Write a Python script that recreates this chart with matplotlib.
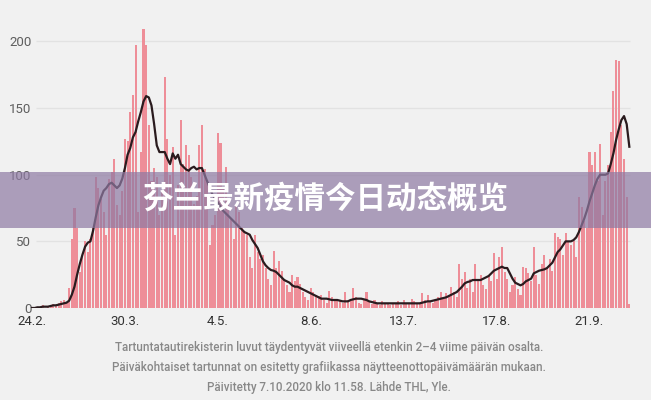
import numpy as np
import matplotlib
matplotlib.use("Agg")
import matplotlib.pyplot as plt
from matplotlib.patches import Rectangle

# daily cases, 24.2.2020 -> 6.10.2020 (one value per day)
cases = [1, 0, 1, 0, 2, 0, 1, 2, 3, 2, 4,
         5, 6, 4, 15, 52, 75, 60, 27, 38, 50,
         42, 52, 60, 98, 90, 82, 72, 55, 97, 102,
         112, 77, 70, 88, 127, 125, 147, 160, 197, 72,
         117, 209, 197, 137, 95, 105, 98, 70, 88, 173,
         127, 100, 121, 55, 92, 141, 108, 122, 115, 98,
         78, 84, 122, 137, 104, 95, 47, 62, 70, 131,
         124, 90, 106, 80, 67, 52, 78, 72, 60, 58,
         55, 38, 30, 55, 42, 37, 40, 30, 22, 17,
         43, 30, 35, 28, 22, 17, 12, 25, 20, 23,
         18, 12, 8, 6, 15, 12, 10, 9, 10, 6,
         4, 13, 8, 7, 6, 5, 4, 12, 6, 5,
         15, 8, 4, 3, 7, 12, 5, 3, 6, 3,
         2, 5, 4, 3, 2, 4, 3, 5, 2, 6,
         4, 3, 7, 5, 3, 4, 11, 6, 10, 5,
         4, 6, 8, 12, 7, 11, 9, 16, 12, 8,
         33, 22, 27, 15, 22, 12, 33, 21, 25, 17,
         14, 25, 20, 41, 22, 38, 46, 27, 22, 12,
         17, 23, 14, 10, 31, 30, 26, 20, 46, 25,
         18, 33, 40, 30, 37, 28, 56, 53, 52, 40,
         56, 50, 47, 50, 38, 83, 76, 65, 60, 117,
         107, 117, 95, 123, 70, 95, 107, 132, 163, 186,
         185, 137, 112, 83, 3]

# 7 day average line
avg = [0, 0, 0.5, 0.5, 1, 1, 1, 1.5, 2, 2, 2.5,
       3, 3.5, 4, 5.5, 10, 16, 25, 33, 40, 46,
       49, 50, 58, 68, 77, 83, 88, 90, 93, 94,
       92, 90, 92, 97, 105, 115, 120, 128, 132, 140,
       147, 155, 159, 158, 152, 138, 122, 117, 117, 117,
       112, 108, 116, 112, 115, 108, 106, 104, 103, 105,
       106, 104, 105, 105, 100, 95, 90, 85, 82, 79,
       76, 73, 71, 69, 67, 65, 63, 61, 59, 57,
       56, 55, 51, 48, 45, 40, 35, 32, 30, 28.5,
       28, 27, 25, 23, 21, 20, 19, 17, 16, 16,
       15, 14, 13, 12, 11, 10, 9, 8, 7, 7,
       7, 6.5, 6, 6, 6, 5.5, 5, 5, 5, 6,
       6.5, 7, 7, 7, 6.5, 6, 5, 4.5, 4, 3.5,
       3.5, 3.5, 3.5, 3.5, 3.5, 3.5, 3.5, 3.5, 3.5, 3.5,
       3.5, 3.5, 3.5, 3.5, 3.5, 3.5, 4, 4.5, 5, 5,
       5.5, 6, 6.5, 7, 7.5, 8, 9, 10, 11, 12,
       14, 16, 18.5, 19.5, 20, 21, 21, 21, 21, 22,
       23, 24, 26, 28, 29, 30, 31, 30, 30, 26,
       22, 19, 18, 17, 18, 20, 21, 22, 26, 27,
       28, 28.5, 29, 30, 32, 34, 38, 42, 44, 47,
       50, 50, 50, 51, 53, 57, 62, 67, 73, 80,
       86, 92, 97, 100, 100, 100, 101, 108, 116, 126,
       134, 141, 144, 138, 121]

tick_days = [0, 35, 70, 105, 140, 175, 210]
tick_labels = ["24.2.", "30.3.", "4.5.", "8.6.", "13.7.", "17.8.", "21.9."]
y_ticks = [0, 50, 100, 150, 200]

notes = [
    "Tartuntatautirekisterin luvut täydentyvät viiveellä etenkin 2–4 viime päivän osalta.",
    "Päiväkohtaiset tartunnat on esitetty grafiikassa näytteenottopäivämäärän mukaan.",
    "Päivitetty 7.10.2020 klo 11.58. Lähde THL, Yle.",
]
banner = "芬兰最新疫情今日动态概览"

bg = "#f1f1f1"
days = np.arange(len(cases))

fig = plt.figure(figsize=(6.51, 4.0), dpi=100, facecolor=bg)
ax = fig.add_axes([0.0461, 0.23, 0.9247, 0.733])
ax.set_facecolor(bg)

ax.hlines(y_ticks[1:], 1.5, 225.3, color="#e2e2e2", lw=1, zorder=0)
ax.bar(days, cases, width=0.78, color="#ee8e98", zorder=2)
ax.plot(days, avg, color="#2a1b1e", lw=1.6, zorder=3)

ax.set_xlim(-0.75, 226)
ax.set_ylim(0, 220)
ax.set_xticks(tick_days)
ax.set_xticklabels(tick_labels, family="Roboto", fontsize=9.5, color="#333333")
ax.set_yticks(y_ticks)
ax.set_yticklabels([str(v) for v in y_ticks], family="Roboto", fontsize=9.5, color="#5e5e5e")
ax.tick_params(axis="x", length=0, pad=5)
ax.tick_params(axis="y", length=0, pad=-1)
for s in ax.spines.values():
    s.set_visible(False)

for txt, y in zip(notes, [0.1325, 0.0825, 0.0325]):
    fig.text(0.505, y, txt, ha="center", va="center", family="Roboto",
             fontsize=8.4, color="#888888", fontweight="medium")

# purple banner with title across the middle
fig.add_artist(Rectangle((0, 0.43), 1, 0.14, transform=fig.transFigure,
                         facecolor="#8e7aa3", alpha=0.7, edgecolor="none", zorder=5))
fig.text(0.5, 0.503, banner, ha="center", va="center", color="white",
         family=["Noto Sans CJK SC", "DejaVu Sans"], fontsize=22, fontweight="heavy", zorder=6)

fig.savefig("out.png", dpi=100, facecolor=bg)
